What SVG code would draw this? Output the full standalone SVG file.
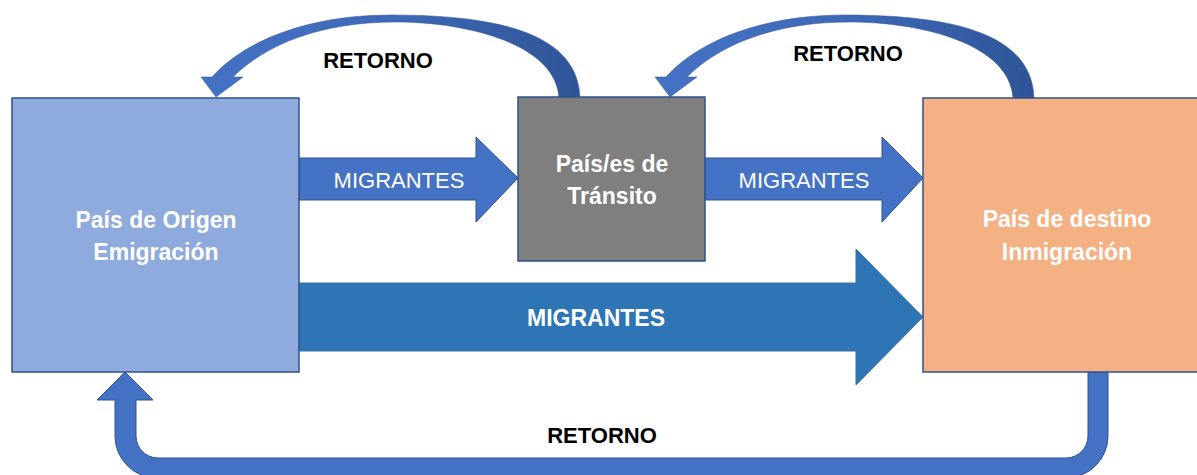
<svg xmlns="http://www.w3.org/2000/svg" xmlns:xlink="http://www.w3.org/1999/xlink" width="1197" height="475" viewBox="0 0 1197 475">
  <style>
    .node-text { font-family: "Liberation Sans", Arial, sans-serif; font-weight: bold; font-size: 23px; fill: #ffffff; text-anchor: middle; }
    .arrow-text { font-family: "Liberation Sans", Arial, sans-serif; font-size: 22px; fill: #ffffff; text-anchor: middle; }
    .arrow-text-bold { font-family: "Liberation Sans", Arial, sans-serif; font-weight: bold; font-size: 23px; fill: #ffffff; text-anchor: middle; }
    .label { font-family: "Liberation Sans", Arial, sans-serif; font-weight: bold; font-size: 22px; fill: #000000; text-anchor: middle; }
    .box { stroke: #2F528F; stroke-width: 1.5; }
    .arrow { fill: #4472C4; stroke: #2F528F; stroke-width: 1; }
  </style>
  <defs>
    <linearGradient id="curveGrad" x1="0" y1="0" x2="1" y2="0">
      <stop offset="0" stop-color="#4472C4"/>
      <stop offset="0.5" stop-color="#3F69B8"/>
      <stop offset="1" stop-color="#2F5597"/>
    </linearGradient>
    <path id="curvedArrow" d="M 580,98 C 578,30 490,15 390,15 C 310,15 245,40 212,77 L 201,77 L 216,97 L 243,77 L 233,77 C 265,45 320,22 395,22 C 470,22 556,45 559,98 Z" fill="url(#curveGrad)" stroke="#2F528F" stroke-width="0.5"/>
  </defs>
  <rect width="1197" height="475" fill="#ffffff"/>

  <g id="connectors">
    <g id="arrow-origen-transito">
      <path class="arrow" d="M 299,158 L 476,158 L 476,137 L 518,178 L 476,222 L 476,200 L 299,200 Z"/>
      <text class="arrow-text" x="399" y="188">MIGRANTES</text>
    </g>
    <g id="arrow-transito-destino">
      <path class="arrow" d="M 705,158 L 882,158 L 882,137 L 923,178 L 882,222 L 882,200 L 705,200 Z"/>
      <text class="arrow-text" x="804" y="188">MIGRANTES</text>
    </g>
    <g id="arrow-origen-destino">
      <path d="M 299,283 L 856,283 L 856,249 L 923,317 L 856,385 L 856,351 L 299,351 Z" fill="#2E75B6" stroke="#41719C" stroke-width="1"/>
      <text class="arrow-text-bold" x="596" y="326">MIGRANTES</text>
    </g>
    <g id="retorno-transito-origen">
      <use xlink:href="#curvedArrow" href="#curvedArrow"/>
      <text class="label" x="378" y="68">RETORNO</text>
    </g>
    <g id="retorno-destino-transito">
      <use xlink:href="#curvedArrow" href="#curvedArrow" transform="translate(454,0)"/>
      <text class="label" x="848" y="61">RETORNO</text>
    </g>
    <g id="retorno-destino-origen">
      <path class="arrow" d="M 1088,372 L 1108,372 L 1108,436 A 42,42 0 0 1 1066,478 L 157,478 A 42,42 0 0 1 115,436 L 115,400 L 97,400 L 125,372 L 153,400 L 136,400 L 136,436 A 22,22 0 0 0 158,458 L 1066,458 A 22,22 0 0 0 1088,436 Z"/>
      <text class="label" x="602" y="443">RETORNO</text>
    </g>
  </g>

  <g id="node-origen">
    <rect class="box" x="12" y="98" width="287" height="274" fill="#8FAADC"/>
    <text class="node-text" x="156" y="228">País de Origen</text>
    <text class="node-text" x="156" y="260">Emigración</text>
  </g>
  <g id="node-transito">
    <rect class="box" x="518" y="97" width="187" height="164" fill="#7F7F7F"/>
    <text class="node-text" x="612" y="172">País/es de</text>
    <text class="node-text" x="612" y="204">Tránsito</text>
  </g>
  <g id="node-destino">
    <rect class="box" x="923" y="98" width="287" height="274" fill="#F4B183"/>
    <text class="node-text" x="1067" y="227">País de destino</text>
    <text class="node-text" x="1067" y="260">Inmigración</text>
  </g>
</svg>
